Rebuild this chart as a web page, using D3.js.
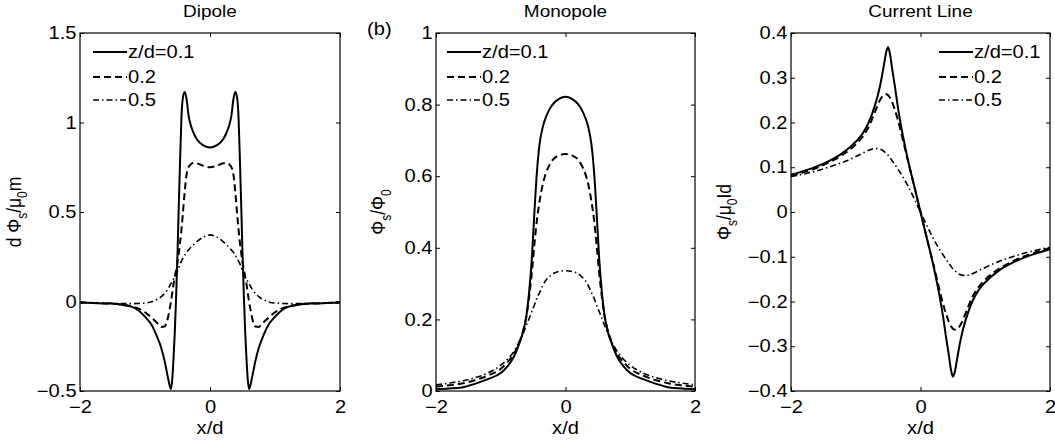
<!DOCTYPE html>
<html>
<head>
<meta charset="utf-8">
<script src="https://cdn.jsdelivr.net/npm/d3@7"></script>
<style>
  body { margin: 0; background: #fff; }
  text { font-family: "Liberation Sans", Arial, Helvetica, sans-serif; fill: #000; }
</style>
</head>
<body>
<svg id="chart" width="1055" height="440"></svg>
<script>
// x positions (x/d) sampled for each panel
var xDipole = [-2,-1.8,-1.6,-1.4,-1.2,-1.1,-1,-0.9,-0.8,-0.75,-0.7,-0.65,-0.62,-0.6,-0.58,-0.56,-0.54,-0.52,-0.5,-0.48,-0.46,-0.44,-0.42,-0.39,-0.36,-0.33,-0.3,-0.25,-0.2,-0.1,0,
  0.1,0.2,0.25,0.3,0.33,0.36,0.39,0.42,0.44,0.46,0.48,0.5,0.52,0.54,0.56,0.58,0.6,0.62,0.65,0.7,0.75,0.8,0.9,1,1.1,1.2,1.4,1.6,1.8,2];
var dipole01 = [-0.006,-0.008,-0.011,-0.016,-0.03,-0.05,-0.085,-0.13,-0.21,-0.26,-0.33,-0.42,-0.47,-0.49,-0.43,-0.31,-0.16,0.04,0.27,0.54,0.79,1.02,1.13,1.17,1.13,1.04,0.99,0.94,0.905,0.872,0.86,
  0.872,0.905,0.94,0.99,1.04,1.13,1.17,1.13,1.02,0.79,0.54,0.27,0.04,-0.16,-0.31,-0.43,-0.49,-0.47,-0.42,-0.33,-0.26,-0.21,-0.13,-0.085,-0.05,-0.03,-0.016,-0.011,-0.008,-0.006];
var dipole02 = [-0.006,-0.008,-0.011,-0.016,-0.028,-0.04,-0.06,-0.09,-0.125,-0.142,-0.14,-0.095,-0.04,0,0.05,0.1,0.14,0.18,0.22,0.27,0.33,0.4,0.48,0.61,0.71,0.75,0.765,0.775,0.772,0.757,0.75,
  0.757,0.772,0.775,0.765,0.75,0.71,0.61,0.48,0.4,0.33,0.27,0.22,0.18,0.14,0.1,0.05,0,-0.04,-0.095,-0.14,-0.142,-0.125,-0.09,-0.06,-0.04,-0.028,-0.016,-0.011,-0.008,-0.006];
var dipole05 = [-0.005,-0.007,-0.009,-0.011,-0.012,-0.011,-0.009,-0.002,0.015,0.027,0.045,0.068,0.087,0.1,0.112,0.126,0.14,0.155,0.17,0.19,0.21,0.225,0.24,0.258,0.275,0.288,0.3,0.318,0.335,0.36,0.372,
  0.36,0.335,0.318,0.3,0.288,0.275,0.258,0.24,0.225,0.21,0.19,0.17,0.155,0.14,0.126,0.112,0.1,0.087,0.068,0.045,0.027,0.015,-0.002,-0.009,-0.011,-0.012,-0.011,-0.009,-0.007,-0.005];

var xMono = [-2,-1.8,-1.6,-1.4,-1.2,-1,-0.9,-0.8,-0.7,-0.65,-0.6,-0.56,-0.52,-0.48,-0.44,-0.4,-0.35,-0.3,-0.25,-0.2,-0.1,0,
  0.1,0.2,0.25,0.3,0.35,0.4,0.44,0.48,0.52,0.56,0.6,0.65,0.7,0.8,0.9,1,1.2,1.4,1.6,1.8,2];
var mono01 = [0.005,0.007,0.01,0.02,0.033,0.05,0.068,0.095,0.14,0.168,0.215,0.28,0.37,0.5,0.615,0.69,0.738,0.766,0.786,0.8,0.816,0.822,
  0.816,0.8,0.786,0.766,0.738,0.69,0.615,0.5,0.37,0.28,0.215,0.168,0.14,0.095,0.068,0.05,0.033,0.02,0.01,0.007,0.005];
var mono02 = [0.012,0.016,0.021,0.03,0.043,0.062,0.08,0.103,0.142,0.172,0.213,0.265,0.33,0.41,0.48,0.53,0.578,0.61,0.63,0.645,0.658,0.662,
  0.658,0.645,0.63,0.61,0.578,0.53,0.48,0.41,0.33,0.265,0.213,0.172,0.142,0.103,0.08,0.062,0.043,0.03,0.021,0.016,0.012];
var mono05 = [0.017,0.022,0.028,0.037,0.05,0.072,0.088,0.11,0.143,0.163,0.185,0.203,0.222,0.24,0.26,0.275,0.295,0.31,0.319,0.327,0.334,0.336,
  0.334,0.327,0.319,0.31,0.295,0.275,0.26,0.24,0.222,0.203,0.185,0.163,0.143,0.11,0.088,0.072,0.05,0.037,0.028,0.022,0.017];

var xLine = [-2,-1.8,-1.6,-1.4,-1.2,-1,-0.9,-0.8,-0.7,-0.64,-0.6,-0.56,-0.53,-0.5,-0.47,-0.44,-0.4,-0.35,-0.3,-0.25,-0.2,-0.1,0,
  0.1,0.2,0.25,0.3,0.35,0.4,0.44,0.47,0.5,0.53,0.56,0.6,0.64,0.7,0.8,0.9,1,1.2,1.4,1.6,1.8,2];
var line01 = [0.083,0.092,0.102,0.115,0.132,0.157,0.174,0.2,0.24,0.272,0.3,0.333,0.357,0.368,0.352,0.322,0.285,0.235,0.192,0.155,0.12,0.06,0,
  -0.06,-0.12,-0.155,-0.192,-0.235,-0.285,-0.322,-0.352,-0.368,-0.357,-0.333,-0.3,-0.272,-0.24,-0.2,-0.174,-0.157,-0.132,-0.115,-0.102,-0.092,-0.083];
var line02 = [0.08,0.089,0.099,0.112,0.128,0.151,0.167,0.19,0.225,0.246,0.256,0.262,0.263,0.261,0.255,0.246,0.23,0.206,0.178,0.148,0.118,0.06,0,
  -0.06,-0.118,-0.148,-0.178,-0.206,-0.23,-0.246,-0.255,-0.261,-0.263,-0.262,-0.256,-0.246,-0.225,-0.19,-0.167,-0.151,-0.128,-0.112,-0.099,-0.089,-0.08];
var line05 = [0.079,0.085,0.092,0.101,0.111,0.124,0.131,0.138,0.142,0.141,0.139,0.135,0.131,0.127,0.121,0.115,0.107,0.096,0.085,0.073,0.06,0.031,0,
  -0.031,-0.06,-0.073,-0.085,-0.096,-0.107,-0.115,-0.121,-0.127,-0.131,-0.135,-0.139,-0.141,-0.142,-0.138,-0.131,-0.124,-0.111,-0.101,-0.092,-0.085,-0.079];

// ticks and labels
var xTicks = [-2, 0, 2];
var yTicksDipole = [-0.5, 0, 0.5, 1, 1.5];
var yTicksMono = [0, 0.2, 0.4, 0.6, 0.8, 1];
var yTicksLine = [-0.4, -0.3, -0.2, -0.1, 0, 0.1, 0.2, 0.3, 0.4];
var legendLabels = ["z/d=0.1", "0.2", "0.5"];
var titles = ["Dipole", "Monopole", "Current Line"];

var plotTop = 33, plotBottom = 391;
var sx = 1.15; // glyphs in the picture are a little wider than tall
var fs = 17.5;

var panels = [
  { left: 80, right: 340, xs: xDipole, series: [dipole01, dipole02, dipole05], yDomain: [-0.5, 1.5], yTicks: yTicksDipole,
    legendX: 93, labelX: 21, label: [["d \u03A6", 0], ["s", 1], ["/\u03BC", 0], ["0", 1], ["m", 0]] },
  { left: 436, right: 695, xs: xMono, series: [mono01, mono02, mono05], yDomain: [0, 1], yTicks: yTicksMono,
    legendX: 447, labelX: 385, label: [["\u03A6", 0], ["s", 1], ["/\u03A6", 0], ["0", 1]] },
  { left: 791, right: 1050, xs: xLine, series: [line01, line02, line05], yDomain: [-0.4, 0.4], yTicks: yTicksLine,
    legendX: 939, labelX: 731, label: [["\u03A6", 0], ["s", 1], ["/\u03BC", 0], ["0", 1], ["Id", 0]] }
];

var dashes = [null, "7,4", "6,3,1.5,3"];
var widths = [2, 2, 1.6];
var legendRows = [52, 77, 100];

var svg = d3.select("#chart");
var fmt = d3.format("~g");

panels.forEach(function (p, pi) {
  var x = d3.scaleLinear().domain([-2, 2]).range([p.left, p.right]);
  var y = d3.scaleLinear().domain(p.yDomain).range([plotBottom, plotTop]);
  var g = svg.append("g");

  g.append("clipPath").attr("id", "clip" + pi)
    .append("rect")
    .attr("x", p.left).attr("y", plotTop)
    .attr("width", p.right - p.left).attr("height", plotBottom - plotTop);

  // axes, ticks pointing inward like matlab
  g.append("g")
    .attr("transform", "translate(0," + plotBottom + ")")
    .call(d3.axisBottom(x).tickValues(xTicks).tickSize(-4).tickSizeOuter(0).tickPadding(10).tickFormat(fmt));
  g.append("g")
    .attr("transform", "translate(" + p.left + ",0)")
    .call(d3.axisLeft(y).tickValues(p.yTicks).tickSize(-4).tickSizeOuter(0).tickPadding(3).tickFormat(fmt));
  g.append("g")
    .attr("transform", "translate(0," + plotTop + ")")
    .call(d3.axisTop(x).tickValues(xTicks).tickSize(-4).tickSizeOuter(0).tickFormat(""));
  g.append("g")
    .attr("transform", "translate(" + p.right + ",0)")
    .call(d3.axisRight(y).tickValues(p.yTicks).tickSize(-4).tickSizeOuter(0).tickFormat(""));

  g.selectAll(".domain").remove();
  g.selectAll(".tick line").attr("stroke", "#000");
  g.selectAll(".tick text")
    .style("font-size", fs + "px")
    .style("font-family", "'Liberation Sans', Arial, sans-serif")
    .attr("fill", "#000")
    .attr("transform", "scale(" + sx + ",1)");

  // curves
  var line = d3.line()
    .curve(d3.curveMonotoneX)
    .x(function (d) { return x(d[0]); })
    .y(function (d) { return y(d[1]); });

  p.series.forEach(function (vals, si) {
    var pts = p.xs.map(function (v, i) { return [v, vals[i]]; });
    g.append("path")
      .attr("clip-path", "url(#clip" + pi + ")")
      .attr("d", line(pts))
      .attr("fill", "none")
      .attr("stroke", "#000")
      .attr("stroke-width", widths[si])
      .attr("stroke-dasharray", dashes[si]);
  });

  // box
  g.append("rect")
    .attr("x", p.left).attr("y", plotTop)
    .attr("width", p.right - p.left).attr("height", plotBottom - plotTop)
    .attr("fill", "none").attr("stroke", "#000").attr("stroke-width", 1.2);

  // legend
  legendLabels.forEach(function (lab, si) {
    var ly = legendRows[si];
    g.append("line")
      .attr("x1", p.legendX).attr("x2", p.legendX + 34)
      .attr("y1", ly).attr("y2", ly)
      .attr("stroke", "#000")
      .attr("stroke-width", widths[si])
      .attr("stroke-dasharray", dashes[si]);
    g.append("text")
      .attr("transform", "translate(" + (p.legendX + 35) + "," + (ly + 6) + ") scale(" + sx + ",1)")
      .style("font-size", fs + "px")
      .text(lab);
  });

  // title
  g.append("text")
    .attr("transform", "translate(" + (p.left + p.right) / 2 + ",17) scale(" + sx + ",1)")
    .attr("text-anchor", "middle")
    .style("font-size", "16.5px")
    .text(titles[pi]);

  // x label
  g.append("text")
    .attr("transform", "translate(" + (p.left + p.right) / 2 + ",434) scale(" + sx + ",1)")
    .attr("text-anchor", "middle")
    .style("font-size", fs + "px")
    .text("x/d");

  // y label with subscripts
  var yl = g.append("text")
    .attr("transform", "translate(" + p.labelX + "," + (plotTop + plotBottom) / 2 + ") scale(" + sx + ",1) rotate(-90)")
    .attr("text-anchor", "middle")
    .style("font-size", fs + "px");
  var shifted = 0;
  p.label.forEach(function (part) {
    var dy = part[1] ? 5 - shifted : -shifted;
    shifted = part[1] ? 5 : 0;
    yl.append("tspan")
      .attr("dy", dy)
      .style("font-size", part[1] ? "12px" : null)
      .text(part[0]);
  });
});

svg.append("text")
  .attr("transform", "translate(367,35) scale(" + sx + ",1)")
  .style("font-size", fs + "px")
  .text("(b)");
</script>
</body>
</html>
